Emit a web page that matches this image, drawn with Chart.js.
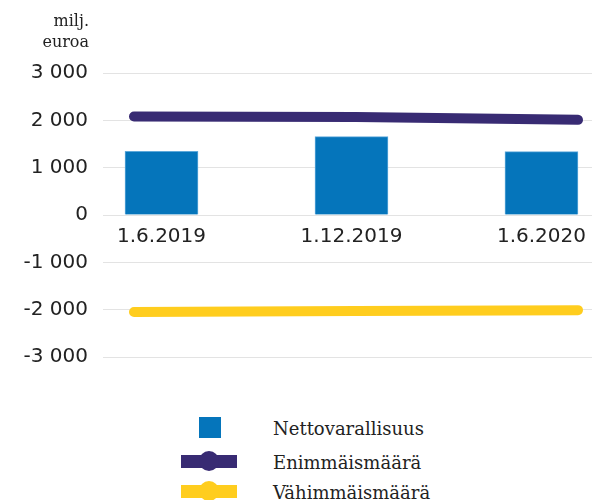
<!DOCTYPE html>
<html lang="fi">
<head>
<meta charset="utf-8">
<script src="https://cdn.jsdelivr.net/npm/chart.js@4"></script>
<style>
  body { margin: 0; background: #fff; }
  #wrap { position: relative; width: 592px; height: 500px; }
  #box { position: absolute; left: 0; top: 0; width: 592px; height: 400px; }
  #unit {
    position: absolute; right: 503px; top: 10px;
    font: 16px "DejaVu Serif", serif; line-height: 21px; color: #222; text-align: right;
  }
  #legend { position: absolute; left: 0; top: 0; }
  .row { position: absolute; left: 0; height: 30px; width: 450px; }
  .row span.txt {
    position: absolute; left: 273px; top: 50%; transform: translateY(-50%);
    font: 18px "DejaVu Serif", serif; color: #222; white-space: nowrap;
  }
  .sq { position: absolute; left: 199px; top: 4px; width: 22px; height: 21px; }
  .ln { position: absolute; left: 181px; top: 8px; width: 56px; height: 13px; }
  .dot { position: absolute; left: 199px; top: 4px; width: 20px; height: 20px; border-radius: 50%; }
</style>
</head>
<body>
<div id="wrap">
  <div id="box"><canvas id="c"></canvas></div>
  <div id="unit">milj.<br>euroa</div>
  <div id="legend"></div>
</div>
<script>
// arvot luettu kuvasta, milj. euroa
const categories = ["1.6.2019", "1.12.2019", "1.6.2020"];
const nettovarallisuus = [1345, 1655, 1340];
const enimmaismaara = [2080, 2070, 2010];
const vahimmaismaara = [-2050, -2030, -2010];
const yTicks = [-3000, -2000, -1000, 0, 1000, 2000, 3000];

const BLUE = "#0575bb";
const PURPLE = "#382b73";
const YELLOW = "#ffcd1e";

function points(values) {
  return categories.map((c, i) => ({ x: i, y: values[i] }));
}

function fmt(v) {
  const s = String(Math.abs(v)).replace(/\B(?=(\d{3})+(?!\d))/g, " ");
  return (v < 0 ? "-" : "") + s;
}

Chart.defaults.font.family = "DejaVu Sans";
Chart.defaults.color = "#222";

const chart = new Chart(document.getElementById("c"), {
  data: {
    datasets: [
      {
        type: "bar",
        label: "Nettovarallisuus",
        data: points(nettovarallisuus),
        backgroundColor: BLUE,
        borderColor: "#5ea9da",
        borderWidth: 1,
        grouped: false,
        barThickness: 73,
        maxBarThickness: 73,
        xAxisID: "x",
        order: 2,
      },
      {
        type: "line",
        label: "Enimmäismäärä",
        data: points(enimmaismaara),
        borderColor: PURPLE,
        backgroundColor: PURPLE,
        borderWidth: 10,
        borderCapStyle: "round",
        pointRadius: 0,
        xAxisID: "xLine",
        order: 1,
      },
      {
        type: "line",
        label: "Vähimmäismäärä",
        data: points(vahimmaismaara),
        borderColor: YELLOW,
        backgroundColor: YELLOW,
        borderWidth: 10,
        borderCapStyle: "round",
        pointRadius: 0,
        xAxisID: "xLine",
        order: 1,
      },
    ],
  },
  options: {
    responsive: true,
    maintainAspectRatio: false,
    animation: false,
    layout: { padding: { top: 73, bottom: 43, left: 0, right: 0 } },
    plugins: { legend: { display: false }, tooltip: { enabled: false } },
    scales: {
      x: {
        type: "linear",
        position: { y: 0 },
        offset: false,
        min: -0.308,
        max: 2.266,
        afterBuildTicks: (s) => { s.ticks = categories.map((c, i) => ({ value: i })); },
        afterFit: (s) => { s.paddingLeft = 0; s.paddingRight = 0; },
        ticks: {
          callback: (v) => categories[v] ?? "",
          font: { size: 20 },
          padding: 10,
          maxRotation: 0,
          autoSkip: false,
        },
        grid: { display: false, drawTicks: false },
        border: { display: false },
      },
      xLine: {
        type: "linear",
        display: false,
        offset: false,
        min: -0.1396,
        max: 2.063,
      },
      y: {
        min: -3000,
        max: 3000,
        afterBuildTicks: (s) => { s.ticks = yTicks.map((v) => ({ value: v })); },
        afterFit: (s) => { s.width = 103; },
        ticks: { callback: (v) => fmt(v), font: { size: 20 }, padding: 15 },
        grid: { color: "#e3e3e3", lineWidth: 1, drawTicks: false },
        border: { display: false },
      },
    },
  },
});

// selite kuvan alle
const legend = document.getElementById("legend");
const rowCenters = [428, 462, 492];
chart.data.datasets.forEach((ds, i) => {
  const row = document.createElement("div");
  row.className = "row";
  row.style.top = (rowCenters[i] - 15) + "px";
  if (ds.type === "bar") {
    row.innerHTML = `<div class="sq" style="background:${ds.backgroundColor}"></div>`;
  } else {
    row.innerHTML = `<div class="ln" style="background:${ds.borderColor}"></div>` +
      `<div class="dot" style="background:${ds.borderColor}"></div>`;
  }
  const t = document.createElement("span");
  t.className = "txt";
  t.textContent = ds.label;
  row.appendChild(t);
  legend.appendChild(row);
});
</script>
</body>
</html>
